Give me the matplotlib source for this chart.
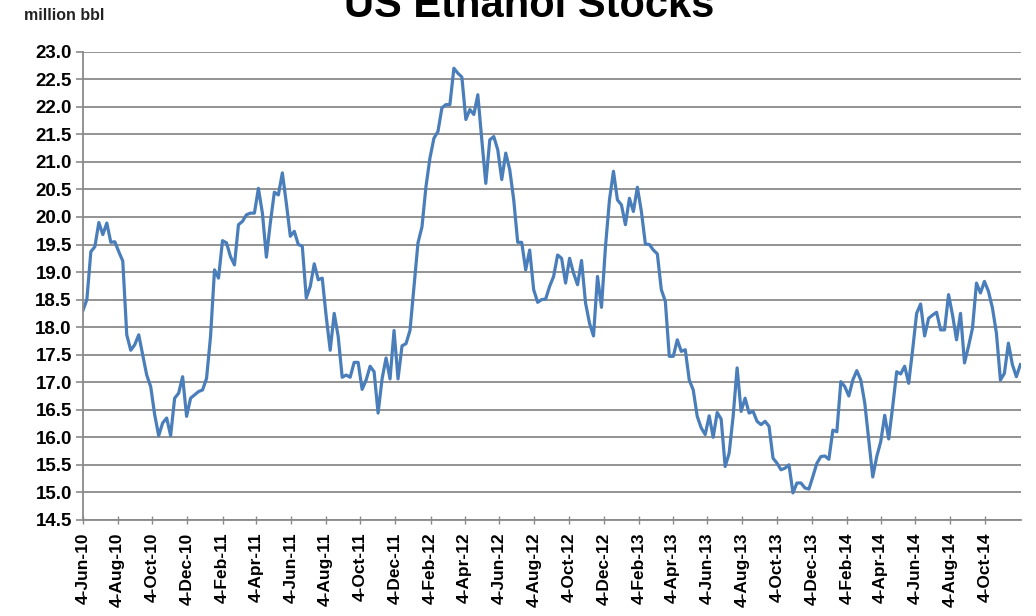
import matplotlib
matplotlib.use("Agg")
import matplotlib.pyplot as plt
import matplotlib.dates as mdates
import numpy as np
import pandas as pd

plt.rcParams['font.family'] = ['Liberation Sans', 'DejaVu Sans']

# weekly ethanol stocks, million barrels, starting Friday 4-Jun-2010
start_date = '2010-06-04'
stocks = [
    18.30, 18.50, 19.37, 19.46, 19.90, 19.68, 19.89, 19.54, 19.55, 19.37,
    19.20, 17.86, 17.58, 17.68, 17.86, 17.50, 17.13, 16.92, 16.41, 16.03,
    16.26, 16.35, 16.03, 16.71, 16.80, 17.10, 16.38, 16.71, 16.77, 16.83,
    16.86, 17.07, 17.83, 19.04, 18.89, 19.57, 19.53, 19.28, 19.13, 19.86,
    19.92, 20.04, 20.07, 20.07, 20.52, 20.07, 19.27, 19.90, 20.45, 20.40,
    20.80, 20.25, 19.65, 19.74, 19.50, 19.47, 18.53, 18.74, 19.15, 18.86,
    18.89, 18.19, 17.58, 18.25, 17.83, 17.09, 17.13, 17.09, 17.36, 17.36,
    16.87, 17.04, 17.29, 17.19, 16.44, 17.06, 17.44, 17.06, 17.94, 17.06,
    17.66, 17.70, 17.94, 18.74, 19.53, 19.82, 20.55, 21.07, 21.43, 21.55,
    21.98, 22.04, 22.04, 22.70, 22.61, 22.54, 21.77, 21.95, 21.86, 22.22,
    21.40, 20.61, 21.40, 21.46, 21.22, 20.68, 21.16, 20.86, 20.31, 19.54,
    19.54, 19.04, 19.40, 18.68, 18.45, 18.50, 18.51, 18.74, 18.92, 19.31,
    19.25, 18.80, 19.25, 18.98, 18.77, 19.21, 18.44, 18.07, 17.84, 18.92,
    18.36, 19.46, 20.31, 20.83, 20.31, 20.22, 19.86, 20.34, 20.10, 20.54,
    20.10, 19.51, 19.50, 19.40, 19.33, 18.68, 18.47, 17.47, 17.47, 17.77,
    17.56, 17.59, 17.04, 16.86, 16.38, 16.17, 16.05, 16.39, 16.00, 16.45,
    16.33, 15.47, 15.71, 16.38, 17.26, 16.47, 16.71, 16.44, 16.47, 16.29,
    16.23, 16.29, 16.20, 15.62, 15.53, 15.41, 15.44, 15.50, 14.99, 15.17,
    15.17, 15.08, 15.06, 15.29, 15.53, 15.65, 15.66, 15.60, 16.13, 16.10,
    17.01, 16.92, 16.75, 17.04, 17.21, 17.04, 16.62, 15.95, 15.28, 15.65,
    15.92, 16.40, 15.97, 16.56, 17.19, 17.15, 17.29, 16.98, 17.59, 18.25,
    18.42, 17.84, 18.16, 18.22, 18.27, 17.95, 17.95, 18.59, 18.22, 17.77,
    18.25, 17.35, 17.65, 17.98, 18.80, 18.62, 18.83, 18.65, 18.35, 17.89,
    17.04, 17.16, 17.71, 17.32, 17.10, 17.32,
]
dates = pd.date_range(start_date, periods=len(stocks), freq='7D')

# tick every two months on the 4th, Jun-10 .. Oct-14
tick_dates = [pd.Timestamp(2010 + (5 + 2 * k) // 12, (5 + 2 * k) % 12 + 1, 4) for k in range(27)]
y_ticks = np.arange(14.5, 23.01, 0.5)

fig = plt.figure(figsize=(10.36, 6.16), dpi=100)
ax = fig.add_axes([0.080, 0.156, 0.906, 0.760])

ax.plot(dates, stocks, color='#4a7ebb', linewidth=2.3, solid_joinstyle='round')

ax.set_ylim(14.5, 23.0)
ax.set_yticks(y_ticks)
ax.set_yticklabels(['%.1f' % v for v in y_ticks], fontsize=13.5, fontweight='bold')
ax.set_xlim(dates[0], pd.Timestamp('2014-12-07'))
ax.set_xticks(tick_dates)
ax.xaxis.set_major_formatter(mdates.DateFormatter('%-d-%b-%y'))
plt.setp(ax.get_xticklabels(), rotation=90, fontsize=12.5, fontweight='bold')

ax.grid(axis='y', color='#8a8a8a', linewidth=1.3)
ax.set_axisbelow(True)
for side in ['top', 'right']:
    ax.spines[side].set_visible(False)
for side in ['left', 'bottom']:
    ax.spines[side].set_color('#8a8a8a')
    ax.spines[side].set_linewidth(1.3)
ax.tick_params(axis='y', direction='out', length=5, width=1.2, color='#8a8a8a', pad=3)
ax.tick_params(axis='x', direction='inout', length=6, width=1.0, color='#8a8a8a', pad=6)

fig.text(0.511, 1 - 17 / 616, 'US Ethanol Stocks', ha='center', va='baseline',
         fontsize=30, fontweight='bold')
fig.text(0.023, 1 - 15 / 616, 'million bbl', ha='left', va='center',
         fontsize=11.5, fontweight='bold', color='#222222')

fig.savefig('out.png', dpi=100, facecolor='white')
